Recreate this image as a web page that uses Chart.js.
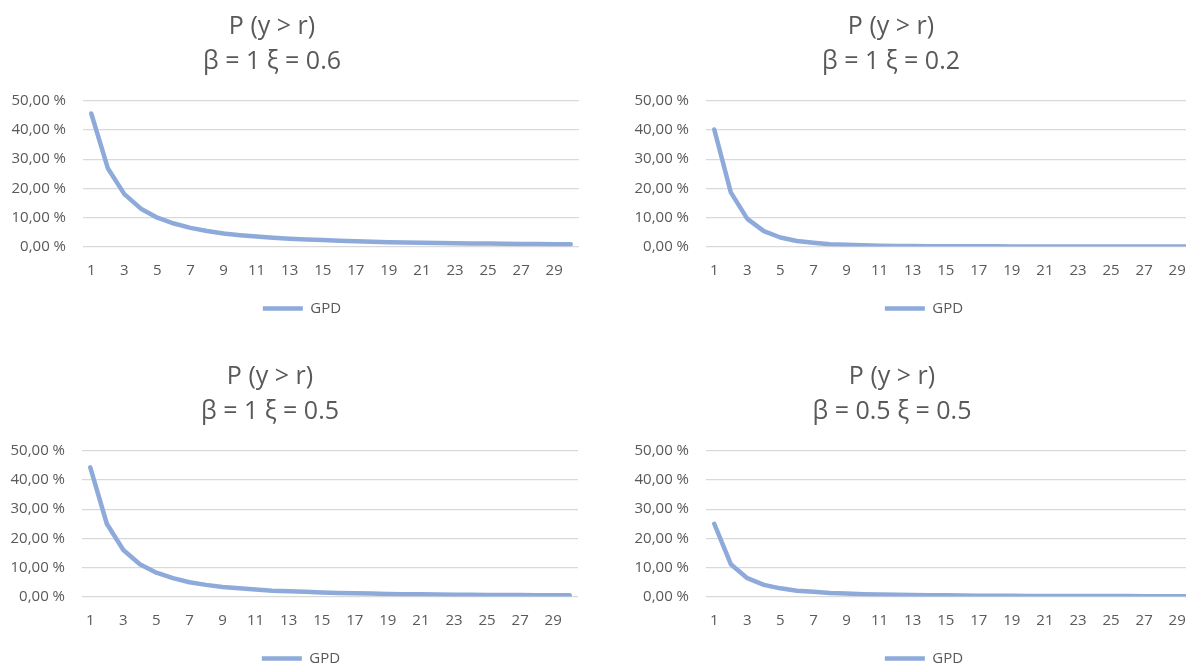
<!DOCTYPE html>
<html>
<head>
<meta charset="utf-8">
<script src="https://cdn.jsdelivr.net/npm/chart.js@4.4.1/dist/chart.umd.min.js"></script>
<style>
  html, body { margin: 0; padding: 0; background: #ffffff; overflow: hidden; width: 1186px; height: 665px; }
  canvas.panel { position: absolute; }
</style>
</head>
<body>
<canvas id="c1" class="panel" width="600" height="326" style="left:0px;top:0px;width:600px;height:326px"></canvas>
<canvas id="c2" class="panel" width="600" height="326" style="left:623px;top:0px;width:600px;height:326px"></canvas>
<canvas id="c3" class="panel" width="600" height="326" style="left:-1px;top:350px;width:600px;height:326px"></canvas>
<canvas id="c4" class="panel" width="600" height="326" style="left:623px;top:350px;width:600px;height:326px"></canvas>
<script>
// ---- data (values in %) ----
const categories = [1, 2, 3, 4, 5, 6, 7, 8, 9, 10, 11, 12, 13, 14, 15, 16, 17, 18, 19, 20, 21, 22, 23, 24, 25, 26, 27, 28, 29, 30];

const seriesName = 'GPD';

const titleA = ['P (y > r)', 'β = 1 ξ = 0.6'];
const titleB = ['P (y > r)', 'β = 1 ξ = 0.2'];
const titleC = ['P (y > r)', 'β = 1 ξ = 0.5'];
const titleD = ['P (y > r)', 'β = 0.5 ξ = 0.5'];

const gpdA = [45.7, 26.9, 18.0, 13.0, 9.9, 7.9, 6.4, 5.3, 4.5, 3.9, 3.4, 3.0, 2.7, 2.4, 2.2, 2.0, 1.8, 1.6, 1.5, 1.4, 1.3, 1.2, 1.1, 1.05, 1.0, 0.93, 0.87, 0.82, 0.78, 0.74];
const gpdB = [40.2, 18.6, 9.5, 5.3, 3.1, 1.9, 1.3, 0.8, 0.6, 0.4, 0.3, 0.2, 0.2, 0.1, 0.1, 0.1, 0.1, 0.05, 0.04, 0.03, 0.03, 0.02, 0.02, 0.02, 0.01, 0.01, 0.01, 0.01, 0.01, 0.01];
const gpdC = [44.4, 25.0, 16.0, 11.1, 8.2, 6.3, 4.9, 4.0, 3.3, 2.8, 2.4, 2.0, 1.8, 1.6, 1.4, 1.2, 1.1, 1.0, 0.9, 0.8, 0.8, 0.7, 0.6, 0.6, 0.55, 0.5, 0.5, 0.45, 0.4, 0.4];
const gpdD = [25.0, 11.1, 6.3, 4.0, 2.8, 2.0, 1.6, 1.2, 1.0, 0.8, 0.7, 0.6, 0.5, 0.4, 0.4, 0.35, 0.3, 0.3, 0.25, 0.2, 0.2, 0.2, 0.2, 0.15, 0.15, 0.15, 0.1, 0.1, 0.1, 0.1];

const yMin = 0;
const yMax = 50;
const yStep = 10;

// ---- styling ----
const FONT = "'Open Sans', 'Noto Sans', sans-serif";
const TEXT = '#595959';
const LINE = '#8eaadb';
const GRID = '#d9d9d9';

function fmtPct(v) {
  return v.toFixed(2).replace('.', ',') + ' %';
}

function makeChart(id, title, values, titleCenter, legendCenter) {
  const shiftBoxes = {
    id: 'shiftBoxes',
    afterLayout(chart) {
      const t = chart.titleBlock;
      const l = chart.legend;
      if (t) { const w = t.right - t.left; t.left = titleCenter - w / 2; t.right = t.left + w; }
      if (l) { const w = l.right - l.left; l.left = legendCenter - w / 2; l.right = l.left + w; }
    }
  };
  return new Chart(document.getElementById(id), {
    type: 'line',
    data: {
      labels: categories,
      datasets: [{
        label: seriesName,
        data: values,
        borderColor: LINE,
        backgroundColor: LINE,
        borderWidth: 4.5,
        pointRadius: 0,
        pointHoverRadius: 0,
        pointStyle: 'line',
        borderCapStyle: 'round',
        borderJoinStyle: 'round',
        tension: 0,
        fill: false
      }]
    },
    plugins: [shiftBoxes],
    options: {
      responsive: false,
      animation: false,
      layout: { padding: { left: 0, right: 21, top: 0, bottom: 0 } },
      plugins: {
        title: {
          display: true,
          text: title,
          color: TEXT,
          font: { family: FONT, size: 25, weight: 'normal', lineHeight: '35px' },
          padding: { top: 9.5, bottom: 21.5 }
        },
        legend: {
          display: true,
          position: 'bottom',
          labels: {
            color: TEXT,
            font: { family: FONT, size: 15 },
            usePointStyle: true,
            pointStyle: 'line',
            pointStyleWidth: 40,
            boxHeight: 15,
            padding: 6.5
          }
        },
        tooltip: { enabled: false }
      },
      scales: {
        x: {
          type: 'category',
          offset: true,
          grid: { display: false, drawTicks: false },
          border: { display: false },
          ticks: {
            color: TEXT,
            font: { family: FONT, size: 15 },
            padding: 15,
            autoSkip: false,
            maxRotation: 0,
            minRotation: 0,
            callback: function (v, i) { return i % 2 === 0 ? String(categories[i]) : ''; }
          }
        },
        y: {
          min: yMin,
          max: yMax,
          grid: { color: GRID, lineWidth: 1.3, drawTicks: false },
          border: { display: false },
          ticks: {
            stepSize: yStep,
            color: TEXT,
            font: { family: FONT, size: 15 },
            padding: 17,
            callback: function (v) { return fmtPct(v); }
          },
          afterFit: function (scale) { scale.width = 83; }
        }
      }
    }
  });
}

makeChart('c1', titleA, gpdA, 272, 302);
makeChart('c2', titleB, gpdB, 268, 301);
makeChart('c3', titleC, gpdC, 271, 302);
makeChart('c4', titleD, gpdD, 269, 301);
</script>
</body>
</html>
